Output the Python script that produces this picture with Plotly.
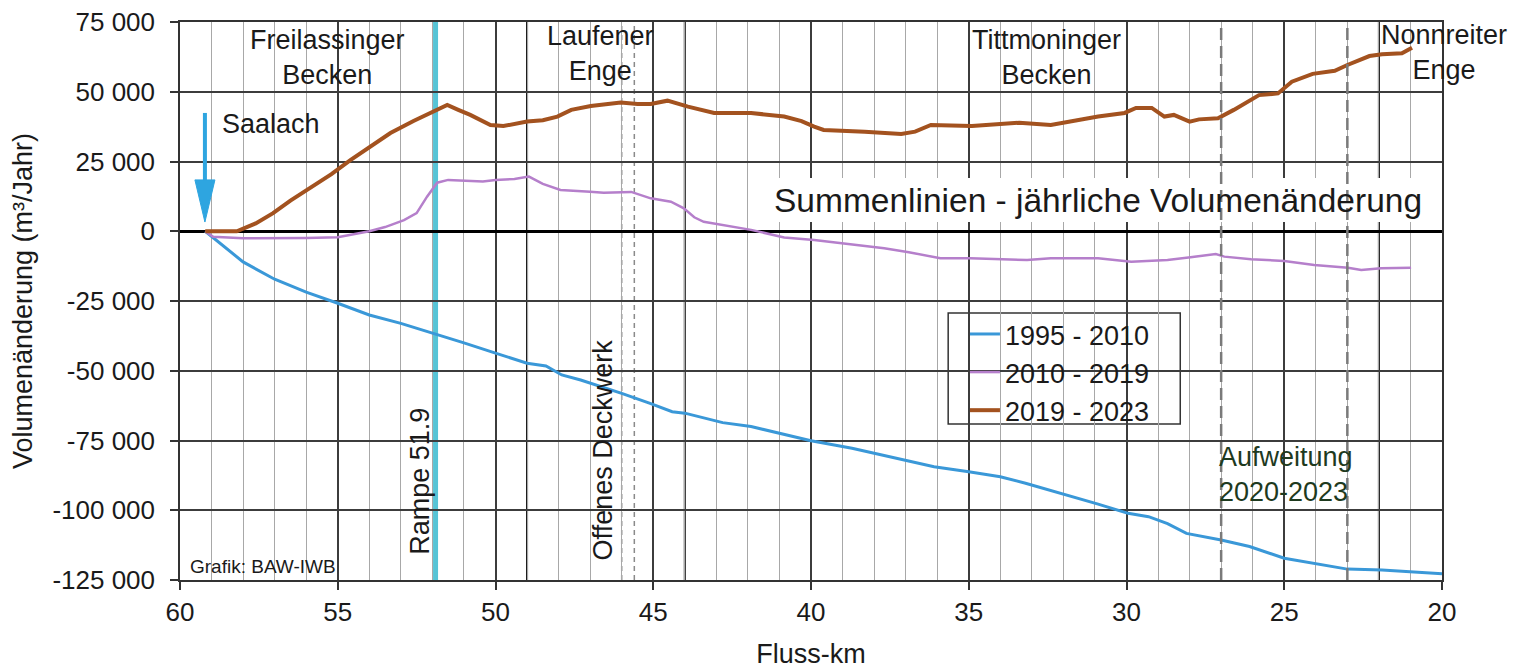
import plotly.graph_objects as go

# ---------------- data ----------------
km_1995 = [59.2, 59.0, 58.6, 58.0, 57.0, 56.0, 55.0, 54.0, 53.0, 52.6, 51.9, 51.0, 50.0,
           49.0, 48.4, 47.9, 47.3, 46.8, 46.0, 45.1, 44.4, 44.0, 42.8, 41.9, 41.0, 40.0,
           38.7, 37.5, 36.1, 35.0, 34.0, 33.2, 31.9, 30.9, 29.95, 29.3, 28.7, 28.1, 27.0,
           26.1, 25.0, 24.1, 23.3, 23.0, 21.9, 21.0, 20.0]
vol_1995 = [0, -1800, -5500, -11000, -17200, -21800, -25800, -30000, -33000, -34400, -36600,
            -40000, -43700, -47300, -48300, -51500, -53300, -55100, -58100, -61700, -64700,
            -65200, -68600, -70000, -72500, -75100, -77800, -80800, -84400, -86200, -88000,
            -90300, -94500, -97800, -101100, -102300, -104800, -108300, -110650, -113000,
            -117200, -119000, -120400, -121100, -121400, -122000, -122800]

km_2010 = [59.2, 58.95, 58.0, 57.0, 56.0, 55.0, 54.5, 54.0, 53.5, 52.9, 52.5, 52.17, 51.85,
           51.5, 50.4, 50.0, 49.4, 48.94, 48.5, 47.94, 47.0, 46.57, 45.7, 45.08, 44.44,
           44.03, 43.7, 43.4, 41.9, 40.85, 39.9, 38.95, 37.68, 36.9, 35.9, 34.95, 33.15,
           32.4, 30.9, 29.85, 28.7, 27.97, 27.17, 26.9, 26.05, 25.0, 24.05, 22.98, 22.56,
           21.93, 20.98]
vol_2010 = [0, -1950, -2500, -2500, -2400, -2150, -1200, 0, 1500, 4000, 6500, 12400, 17400,
            18400, 17800, 18400, 18700, 19600, 17000, 14800, 14200, 13800, 14100, 11800,
            10600, 8200, 5000, 3400, 500, -2200, -3100, -4300, -6100, -7500, -9700, -9700,
            -10300, -9700, -9700, -10900, -10300, -9300, -8150, -9100, -10050, -10650,
            -12100, -13050, -13900, -13300, -13050]

km_2019 = [59.2, 58.2, 57.6, 57.05, 56.5, 55.9, 55.2, 54.6, 54.0, 53.33, 52.6, 51.97, 51.53,
           51.18, 50.8, 50.16, 49.75, 49.0, 48.5, 48.04, 47.6, 46.98, 46.03, 45.5, 45.08,
           44.55, 43.9, 43.07, 41.9, 40.85, 40.3, 39.9, 39.6, 38.3, 37.14, 36.7, 36.2, 34.9,
           33.4, 32.4, 30.9, 30.06, 29.7, 29.2, 28.8, 28.5, 28.0, 27.7, 27.1, 26.6, 25.8,
           25.2, 24.76, 24.1, 23.4, 23.0, 22.3, 21.9, 21.27, 20.95]
vol_2019 = [0, 0, 2800, 6500, 11000, 15500, 20500, 25500, 30000, 35200, 39500, 42750, 45250,
            43500, 41700, 38100, 37700, 39300, 39800, 41100, 43500, 44900, 46100, 45600,
            45600, 46800, 44650, 42400, 42400, 41100, 39500, 37500, 36300, 35700, 34900,
            35700, 38100, 37700, 38900, 38100, 41100, 42400, 44200, 44200, 41100, 41700,
            39300, 40100, 40500, 43500, 48800, 49400, 53600, 56400, 57500, 59600, 62800,
            63400, 63800, 65800]

series_names = ["1995 - 2010", "2010 - 2019", "2019 - 2023"]
series_colors = ["#3a98d8", "#b57fcb", "#a3521f"]
series_widths = [3, 2.5, 4]

y_tickvals = [75000, 50000, 25000, 0, -25000, -50000, -75000, -100000, -125000]
y_ticktext = ["75 000", "50 000", "25 000", "0", "-25 000", "-50 000", "-75 000",
              "-100 000", "-125 000"]
x_tickvals = [60, 55, 50, 45, 40, 35, 30, 25, 20]

# reference lines (km)
rampe_km = 51.9
black_km = [49.0, 44.0, 22.0]
deckwerk_km = [46.0, 45.6]
aufweitung_km = [27.0, 23.0]

FONT = "Liberation Sans, Arial, sans-serif"
TXT = "#1a1a1a"

fig = go.Figure()
for name, xs, ys, col, w in zip(series_names, [km_1995, km_2010, km_2019],
                                 [vol_1995, vol_2010, vol_2019], series_colors, series_widths):
    fig.add_trace(go.Scatter(x=xs, y=ys, mode="lines", name=name,
                             line=dict(color=col, width=w)))

shapes = []
# white box behind the title text
shapes.append(dict(type="rect", xref="x", yref="y", x0=41.61, x1=20.21, y0=3320, y1=19090,
                   fillcolor="white", line=dict(width=0), layer="between"))
# legend box
shapes.append(dict(type="rect", xref="paper", yref="paper", x0=0.6087, x1=0.7926,
                   y0=0.2796, y1=0.4785, fillcolor="white",
                   line=dict(color="#333333", width=1.5), layer="between"))
shapes.append(dict(type="line", xref="x", yref="paper", x0=rampe_km, x1=rampe_km, y0=0, y1=1,
                   line=dict(color="#56c4d6", width=5), layer="between"))
for k in black_km:
    shapes.append(dict(type="line", xref="x", yref="paper", x0=k, x1=k, y0=0, y1=1,
                       line=dict(color="#111111", width=2), layer="between"))
for k in deckwerk_km:
    shapes.append(dict(type="line", xref="x", yref="paper", x0=k, x1=k, y0=0, y1=1,
                       line=dict(color="#8a8a8a", width=1.5, dash="5px,4px"), layer="between"))
for k in aufweitung_km:
    shapes.append(dict(type="line", xref="x", yref="paper", x0=k, x1=k, y0=0, y1=1,
                       line=dict(color="#7a7a7a", width=2.5, dash="12px,6px"), layer="above"))
# Saalach arrow
SA_KM, SA_TIP, SA_BASE, SA_TAIL, SA_HW = 59.21, 3300, 18400, 42400, 0.317
ARROW_C = "#2ea5e0"
shapes.append(dict(type="line", xref="x", yref="y", x0=SA_KM, x1=SA_KM, y0=SA_TAIL, y1=SA_BASE - 500,
                   line=dict(color=ARROW_C, width=4), layer="above"))
shapes.append(dict(type="path", xref="x", yref="y",
                   path=f"M {SA_KM - SA_HW},{SA_BASE} L {SA_KM + SA_HW},{SA_BASE} L {SA_KM},{SA_TIP} Z",
                   fillcolor=ARROW_C, line=dict(color=ARROW_C, width=1), layer="above"))

ann = []
def add(text, x, y, size=27, xanchor="center", yanchor="middle", angle=0, color=TXT,
        align="center", xref="x", **kw):
    d = dict(text=text, x=x, y=y, xref=xref, yref="y", showarrow=False, xanchor=xanchor,
             yanchor=yanchor, textangle=angle, align=align,
             font=dict(family=FONT, size=size, color=color))
    d.update(kw)
    ann.append(d)

add("Freilassinger<br>Becken", 55.34, 62450)
add("Laufener<br>Enge", 46.68, 63700)
add("Tittmoninger<br>Becken", 32.53, 62450)
add("Nonnreiter<br>Enge", 1.0018, 64070, xref="paper")
add("Saalach", 58.73, 38620, xanchor="left")
add("Summenlinien - jährliche Volumenänderung", 30.91, 11200, size=33.5)
add("Rampe 51.9", 52.39, -89760, angle=-90)
add("Offenes Deckwerk", 46.58, -78400, angle=-90)
add("Aufweitung<br>2020-2023", 27.12, -87350, xanchor="left", align="left", color="#1e3a1e")
add("Grafik: BAW-IWB", 59.75, -120300, size=19, xanchor="left")

# the page body adds an 8px margin, so the figure is 8px smaller on each side
fig.update_layout(
    width=1512, height=661,
    margin=dict(l=172, r=78, t=14, b=89, autoexpand=False),
    plot_bgcolor="white", paper_bgcolor="white",
    font=dict(family=FONT, size=26, color=TXT),
    shapes=shapes, annotations=ann,
    showlegend=True,
    legend=dict(x=0.622, y=0.484, xanchor="left", yanchor="top",
                bgcolor="rgba(0,0,0,0)", borderwidth=0,
                font=dict(family=FONT, size=27, color=TXT), tracegroupgap=0),
)
fig.update_xaxes(
    range=[60, 20], tickmode="array", tickvals=x_tickvals, automargin=False,
    ticks="outside", ticklen=8, tickwidth=1.5, tickcolor="#333333",
    showgrid=True, gridcolor="#3c3c3c", gridwidth=1.5,
    minor=dict(tickmode="linear", tick0=20, dtick=1, showgrid=True,
               gridcolor="#a8a8a8", gridwidth=1, ticks=""),
    showline=True, linecolor="#333333", linewidth=1.5, mirror=True, zeroline=False,
    tickfont=dict(size=26), ticklabeloverflow="allow",
    title=dict(text="Fluss-km", font=dict(size=27), standoff=18),
)
fig.update_yaxes(
    range=[-125000, 75000], tickmode="array", tickvals=y_tickvals, ticktext=y_ticktext,
    automargin=False,
    ticks="outside", ticklen=8, tickwidth=1.5, tickcolor="#333333",
    showgrid=True, gridcolor="#3c3c3c", gridwidth=1.5,
    zeroline=True, zerolinecolor="#000000", zerolinewidth=3,
    showline=True, linecolor="#333333", linewidth=1.5, mirror=True,
    tickfont=dict(size=26), ticklabelstandoff=10, ticklabeloverflow="allow",
    title=dict(text="Volumenänderung (m³/Jahr)", font=dict(size=27), standoff=14),
)

fig.write_html("out.html")
